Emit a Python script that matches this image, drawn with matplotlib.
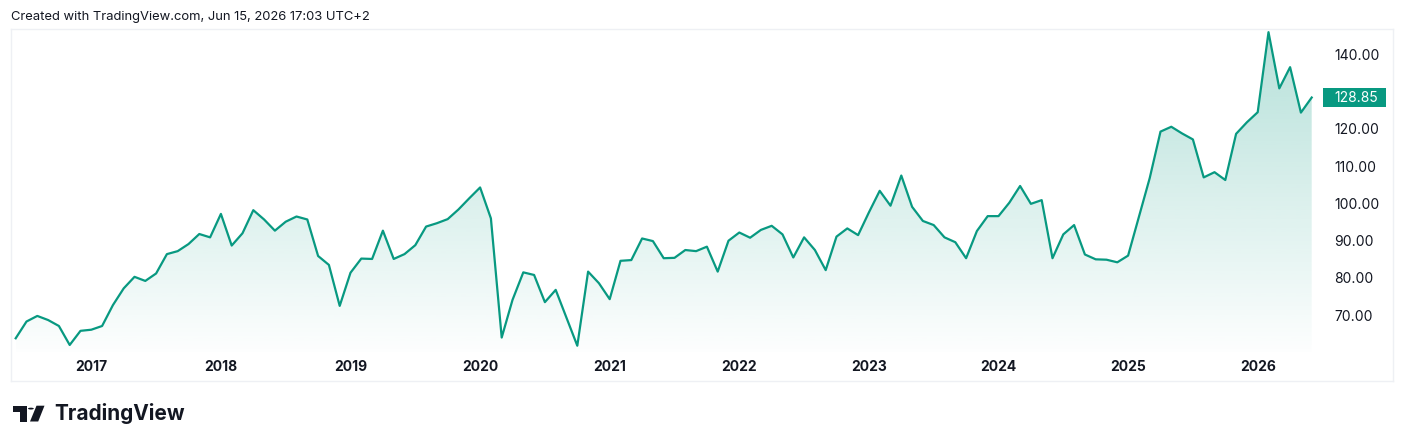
import numpy as np
import matplotlib
matplotlib.use("Agg")
import matplotlib.pyplot as plt
from matplotlib.patches import Polygon, Circle, Rectangle

# ---- data (monthly closes, Jun 2016 .. Jun 2026) ----
start_month = "2016-06"
values = [
    64.2, 68.7, 70.2, 69.1, 67.5, 62.4, 66.2, 66.5, 67.5, 73.1, 77.6, 80.7,
    79.6, 81.6, 86.8, 87.6, 89.5, 92.2, 91.3, 97.6, 89.1, 92.4, 98.6, 96.1,
    93.1, 95.5, 96.9, 96.1, 86.3, 83.9, 72.9, 81.8, 85.6, 85.5, 93.1, 85.5,
    86.8, 89.2, 94.2, 95.1, 96.2, 98.8, 101.8, 104.7, 96.4, 64.4, 74.5, 81.9,
    81.2, 73.9, 77.2, 69.7, 62.2, 82.1, 79.0, 74.7, 85.0, 85.2, 91.0, 90.3,
    85.7, 85.8, 87.9, 87.6, 88.8, 82.1, 90.4, 92.6, 91.2, 93.3, 94.4, 92.1,
    85.9, 91.3, 87.9, 82.5, 91.5, 93.7, 91.9, 98.0, 103.8, 99.8, 107.9, 99.5,
    95.7, 94.6, 91.3, 90.0, 85.7, 93.0, 97.0, 97.0, 100.6, 105.1, 100.3, 101.3,
    85.7, 92.1, 94.6, 86.7, 85.4, 85.3, 84.6, 86.4, 96.8, 107.2, 119.7, 121.0,
    119.2, 117.6, 107.4, 108.8, 106.7, 119.1, 122.2, 124.9, 146.4, 131.3, 137.0, 124.8,
    128.85,
]
year_labels = ["2017", "2018", "2019", "2020", "2021", "2022", "2023", "2024", "2025", "2026"]
year_month_index = [7, 19, 31, 43, 55, 67, 79, 91, 103, 115]  # January positions
price_ticks = [70, 80, 90, 100, 110, 120, 140]
last_value = values[-1]

LINE = "#089981"
TXT = "#131722"

W, H = 1404, 447
fig = plt.figure(figsize=(W / 100, H / 100), dpi=100)
fig.patch.set_facecolor("white")


def fx(px):
    return px / W


def fy(py):
    return 1 - py / H


# main pane (frame)
L, R, T, B = 10.7, 1392.7, 29.3, 381.0
ax = fig.add_axes([fx(L), fy(B), (R - L) / W, (B - T) / H])
ppm = 10.8      # pixels per month
ppu = 3.724     # pixels per price unit
x0px = 15.7     # pixel of first point
ax.set_xlim(-(x0px - L) / ppm, (R - x0px) / ppm)
ax.set_ylim(140 - (B - 56) / ppu, 140 + (56 - T) / ppu)
ax.set_xticks([])
ax.set_yticks([])
for s in ax.spines.values():
    s.set_color("#eef0f4")
    s.set_linewidth(1.0)

x = np.arange(len(values))
y = np.array(values)

# gradient area fill
fill_bottom = 140 - (352 - 56) / ppu
verts = list(zip(x, y)) + [(x[-1], fill_bottom), (x[0], fill_bottom)]
poly = Polygon(verts, closed=True, facecolor="none", edgecolor="none")
ax.add_patch(poly)
ytop = ax.get_ylim()[1]
n = 256
grad = np.zeros((n, 1, 4))
grad[:, 0, 0] = 8 / 255
grad[:, 0, 1] = 153 / 255
grad[:, 0, 2] = 129 / 255
grad[:, 0, 3] = np.linspace(0.30, 0.01, n)
im = ax.imshow(grad, aspect="auto", extent=[x[0], x[-1], fill_bottom, ytop],
               origin="upper", interpolation="bilinear", zorder=1)
im.set_clip_path(poly)

ax.plot(x, y, color=LINE, lw=1.6, zorder=3, solid_joinstyle="round")

# year labels
ylab = 140 - (367 - 56) / ppu
for pos, lab in zip(year_month_index, year_labels):
    ax.text(pos, ylab, lab, ha="center", va="center", fontsize=10,
            fontweight="bold", family=["Inter", "DejaVu Sans"], color=TXT)

# price labels
xlab = (1334.3 - x0px) / ppm
for t in price_ticks:
    ax.text(xlab, t, f"{t:.2f}", ha="left", va="center", fontsize=10,
            family=["Inter", "DejaVu Sans"], color=TXT)

# last value badge
bx0 = (1322.7 - x0px) / ppm
bx1 = (1386.0 - x0px) / ppm
bh = 18.4 / ppu
ax.add_patch(Rectangle((bx0, last_value - bh / 2), bx1 - bx0, bh,
                       facecolor=LINE, edgecolor="none", zorder=4, clip_on=False))
ax.text(xlab, last_value, f"{last_value:.2f}", ha="left", va="center", fontsize=10,
        family=["Inter", "DejaVu Sans"], color="white", zorder=5)

# header
fig.text(fx(11), fy(17), "Created with TradingView.com, Jun 15, 2026 17:03 UTC+2",
         ha="left", va="center", fontsize=9.35, family=["Inter", "DejaVu Sans"],
         color=TXT)

# TradingView logo
tr = fig.transFigure


def P(px, py):
    return (fx(px), fy(py))


logo_c = "#131722"
fig.patches.append(Polygon([P(13.3, 405.7), P(26.7, 405.7), P(26.7, 421.5), P(20.2, 421.5),
                            P(20.2, 411.6), P(13.3, 411.6)], closed=True,
                           facecolor=logo_c, edgecolor="none", transform=tr))
fig.patches.append(Circle(P(30.9, 408.6), radius=2.9 / W, facecolor=logo_c,
                          edgecolor="none", transform=tr))
fig.patches.append(Polygon([P(36.5, 405.7), P(44.5, 405.7), P(38.2, 421.5), P(30.0, 421.5)],
                           closed=True, facecolor=logo_c, edgecolor="none", transform=tr))
fig.text(fx(54), fy(413.5), "TradingView", ha="left", va="center", fontsize=15,
         fontweight="bold", family=["Inter", "DejaVu Sans"], color=logo_c)

fig.savefig("out.png", dpi=100, facecolor="white")
